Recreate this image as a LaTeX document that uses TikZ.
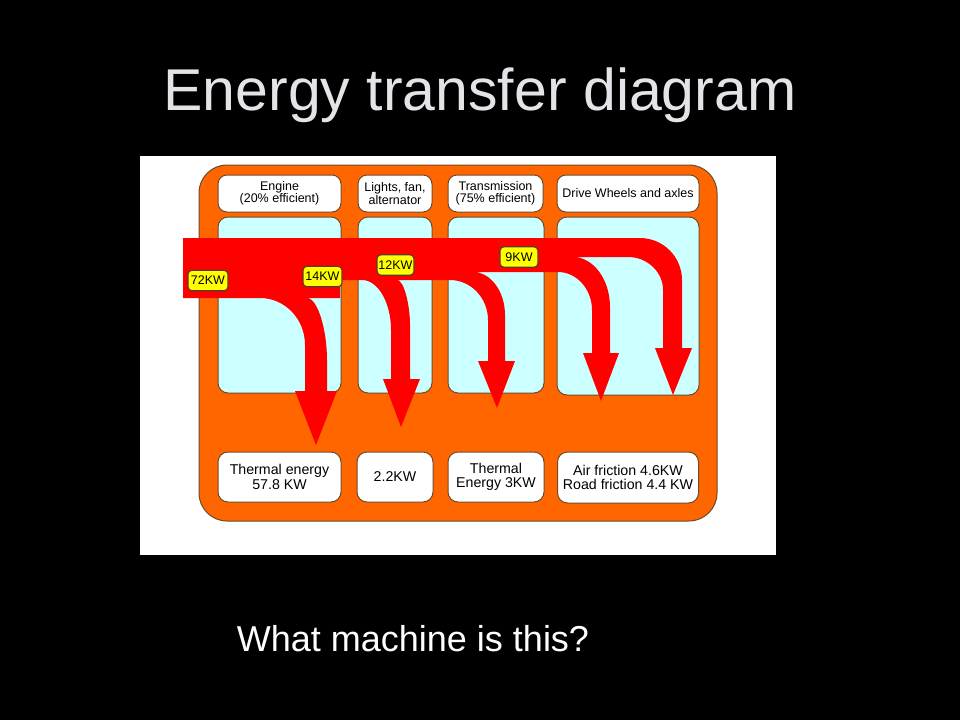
\documentclass[tikz,border=0pt]{standalone}
\usepackage{fontspec}
\setmainfont{Liberation Sans}
\definecolor{orng}{HTML}{FF6600}
\definecolor{brd}{HTML}{6E4A2A}
\definecolor{lblue}{HTML}{CCFFFF}
\definecolor{ttl}{HTML}{E2E4E8}
\definecolor{flow}{HTML}{FF0000}
\definecolor{ylw}{HTML}{FFFF00}
\begin{document}
\begin{tikzpicture}[x=1pt,y=-1pt,
  hdr/.style={draw=brd,line width=1pt,fill=white,rounded corners=9pt,minimum width=#1,minimum height=37pt,inner sep=0pt,align=center,font=\fontsize{12.5}{12.5}\selectfont},
  bluebox/.style={draw=brd,line width=1pt,fill=lblue,rounded corners=10pt,minimum width=#1,minimum height=176pt,inner sep=0pt},
  btm/.style={draw=brd,line width=1pt,fill=white,rounded corners=10pt,minimum width=#1,minimum height=50pt,inner sep=0pt,align=center,font=\fontsize{14.2}{14.5}\selectfont},
  lbl/.style={draw=brd!80!black,line width=1.1pt,fill=ylw,rounded corners=4pt,minimum width=#1,minimum height=20.5pt,inner sep=0pt,font=\fontsize{12.5}{12.5}\selectfont}
]
\fill[black] (0,0) rectangle (960,720);
\useasboundingbox (0,0) rectangle (960,720);
\node[text=ttl,font=\fontsize{59}{60}\selectfont,anchor=base,inner sep=0pt] (title) at (480,110) {Energy transfer diagram};
\node[text=white,font=\fontsize{36}{40}\selectfont,anchor=base,inner sep=0pt] (question) at (413,651) {What machine is this?};
\fill[white] (140,156) rectangle (776,555);
\draw[draw=brd,line width=1pt,fill=orng,rounded corners=28pt] (199,165) rectangle (717,521);
% header boxes
\node[hdr=123pt] (h1) at (279.5,193.5) {Engine\\(20\% efficient)};
\node[hdr=74pt] (h2) at (395,193.5) {Lights, fan,\\alternator};
\node[hdr=95pt] (h3) at (495.5,193.5) {Transmission\\(75\% efficient)};
\node[hdr=142pt] (h4) at (628,193.5) {Drive Wheels and axles};
% blue boxes
\node[bluebox=123pt] (b1) at (279.5,305) {};
\node[bluebox=74pt] (b2) at (395,305) {};
\node[bluebox=96pt] (b3) at (496,305) {};
\node[bluebox=142pt,minimum height=178pt] (b4) at (628,306) {};
% bottom boxes
\node[btm=123pt] (e1) at (279.5,477) {Thermal energy\\57.8 KW};
\node[btm=76pt] (e2) at (395,477) {2.2KW};
\node[btm=96pt] (e3) at (496,477) {Thermal\\Energy 3KW};
\node[btm=141pt,minimum height=51pt] (e4) at (628,477.5) {Air friction 4.6KW\\Road friction 4.4 KW};
% energy flow
\fill[flow] (183,238) -- (640,238)
  .. controls (663.1,238) and (682,256.9) .. (682,280)
  -- (682,348) -- (692,348) -- (673,395) -- (655,348) -- (663,348) -- (663,290)
  .. controls (663,271.85) and (647.25,257) .. (628,257)
  -- (573,257)
  .. controls (593.35,257) and (610,279.5) .. (610,307)
  -- (610,353) -- (619,353) -- (601,401) -- (583,353) -- (592,353) -- (592,310)
  .. controls (592,289.1) and (576.7,272) .. (558,272)
  -- (473,272)
  .. controls (490.6,272) and (505,291.35) .. (505,315)
  -- (505,361) -- (515,361) -- (497,408) -- (478,361) -- (488,361) -- (488,320)
  .. controls (488,298) and (470.9,280) .. (450,280)
  -- (397,280)
  .. controls (404,280) and (410,305) .. (410,325)
  -- (410,379) -- (420,379) -- (401,427) -- (383,379) -- (391,379) -- (391,330)
  .. controls (391,302.5) and (378,280) .. (362,280)
  -- (340,280) -- (340,298) -- (308,298)
  .. controls (318,300) and (327,330) .. (327,360)
  -- (327,391) -- (337,391) -- (316,445) -- (295,391) -- (305,391) -- (305,345)
  .. controls (305,319) and (285,298) .. (260,298)
  -- (183,298) -- cycle;
% labels
\node[lbl=40pt] (k72) at (208,280.5) {72KW};
\node[lbl=39pt] (k14) at (322.5,276.5) {14KW};
\node[lbl=37pt] (k12) at (395.5,265) {12KW};
\node[lbl=38pt] (k9) at (519,257) {9KW};
\end{tikzpicture}
\end{document}
